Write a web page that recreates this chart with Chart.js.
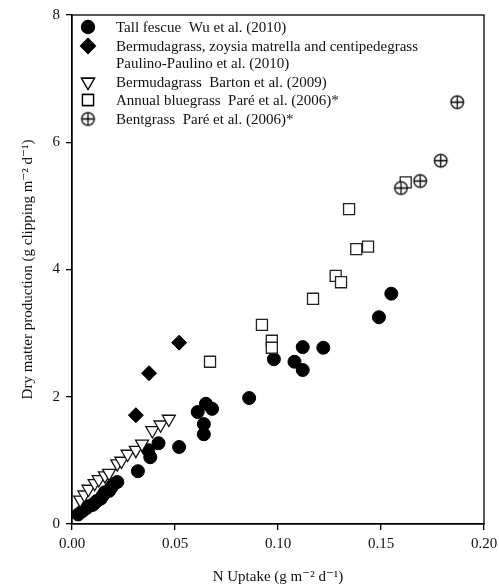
<!DOCTYPE html>
<html>
<head>
<meta charset="utf-8">
<script src="https://cdn.jsdelivr.net/npm/chart.js@4"></script>
<style>
  body { margin: 0; background: #fff; }
  #wrap { width: 499px; height: 588px; }
</style>
</head>
<body>
<div id="wrap"><canvas id="chart-uptake" width="499" height="588"></canvas></div>
<script>
/* N uptake vs. dry matter production, five turfgrass studies */

const xTickLabels = ['0.00', '0.05', '0.10', '0.15', '0.20'];
const yTickLabels = ['0', '2', '4', '6', '8'];

const tallFescueX = [0.003, 0.005, 0.007, 0.008, 0.010, 0.011, 0.012, 0.014, 0.015, 0.016, 0.018, 0.019, 0.020, 0.022,
  0.032, 0.037, 0.038, 0.042, 0.052, 0.061, 0.064, 0.064, 0.065, 0.068, 0.086, 0.098, 0.108, 0.112, 0.112, 0.122, 0.149, 0.155];
const tallFescueY = [0.15, 0.20, 0.25, 0.28, 0.30, 0.33, 0.36, 0.40, 0.45, 0.50, 0.52, 0.57, 0.62, 0.66,
  0.83, 1.16, 1.05, 1.27, 1.21, 1.76, 1.57, 1.41, 1.89, 1.81, 1.98, 2.59, 2.55, 2.42, 2.78, 2.77, 3.25, 3.62];

const zoysiaX = [0.031, 0.0374, 0.052];
const zoysiaY = [1.71, 2.37, 2.85];

const bartonX = [0.004, 0.006, 0.008, 0.011, 0.013, 0.016, 0.018, 0.022, 0.024, 0.027, 0.031, 0.034, 0.039, 0.043, 0.047];
const bartonY = [0.38, 0.46, 0.55, 0.64, 0.70, 0.76, 0.80, 0.95, 0.99, 1.10, 1.16, 1.26, 1.47, 1.56, 1.65];

const bluegrassX = [0.067, 0.0922, 0.097, 0.097, 0.117, 0.128, 0.1306, 0.1345, 0.138, 0.1437, 0.162];
const bluegrassY = [2.55, 3.13, 2.88, 2.77, 3.54, 3.90, 3.80, 4.95, 4.32, 4.36, 5.37];

const bentgrassX = [0.1597, 0.169, 0.179, 0.187];
const bentgrassY = [5.28, 5.39, 5.71, 6.63];

const legendLines = [
  { style: 'circle', text: 'Tall fescue  Wu et al. (2010)' },
  { style: 'diamond', text: 'Bermudagrass, zoysia matrella and centipedegrass' },
  { style: null, text: 'Paulino-Paulino et al. (2010)' },
  { style: 'triangle', text: 'Bermudagrass  Barton et al. (2009)' },
  { style: 'square', text: 'Annual bluegrass  Paré et al. (2006)*' },
  { style: 'oplus', text: 'Bentgrass  Paré et al. (2006)*' },
];

const SERIF = '"Liberation Serif", "DejaVu Serif", serif';
const pts = (xs, ys) => xs.map((x, i) => ({ x, y: ys[i] }));

/* circle with a cross inside, used as point style */
function makeOplus(r) {
  const c = document.createElement('canvas');
  const s = Math.ceil(r * 2 + 4);
  c.width = s; c.height = s;
  const g = c.getContext('2d');
  const m = s / 2;
  g.strokeStyle = '#000'; g.lineWidth = 1.3;
  g.fillStyle = '#fff';
  g.beginPath(); g.arc(m, m, r, 0, Math.PI * 2); g.fill(); g.stroke();
  g.beginPath();
  g.moveTo(m - r, m); g.lineTo(m + r, m);
  g.moveTo(m, m - r); g.lineTo(m, m + r);
  g.stroke();
  return c;
}
const oplusImg = makeOplus(6.3);

/* box frame + legend */
const frameLegend = {
  id: 'frameLegend',
  afterDraw(chart) {
    const { ctx, chartArea: a } = chart;
    ctx.save();
    ctx.strokeStyle = '#000';
    ctx.lineWidth = 1.3;
    ctx.strokeRect(a.left, a.top, a.right - a.left, a.bottom - a.top);

    ctx.font = '15px ' + SERIF;
    ctx.textBaseline = 'middle';
    const rows = [27, 46, 63, 82, 100, 119];
    const mx = 88, tx = 116;
    legendLines.forEach((l, i) => {
      const y = rows[i];
      ctx.fillStyle = '#111';
      ctx.fillText(l.text, tx, y + 1);
      ctx.strokeStyle = '#000';
      ctx.lineWidth = 1.3;
      if (l.style === 'circle') {
        ctx.fillStyle = '#000';
        Chart.helpers.drawPoint(ctx, { pointStyle: 'circle', radius: 6.5, rotation: 0, borderWidth: 1 }, mx, y);
        ctx.fill();
      } else if (l.style === 'diamond') {
        ctx.fillStyle = '#000';
        Chart.helpers.drawPoint(ctx, { pointStyle: 'rectRot', radius: 7.5, rotation: 0, borderWidth: 1 }, mx, y);
        ctx.fill();
      } else if (l.style === 'triangle') {
        ctx.fillStyle = '#fff';
        Chart.helpers.drawPoint(ctx, { pointStyle: 'triangle', radius: 7.5, rotation: 180, borderWidth: 1.3 }, mx, y);
        ctx.fill(); ctx.stroke();
      } else if (l.style === 'square') {
        ctx.fillStyle = '#fff';
        Chart.helpers.drawPoint(ctx, { pointStyle: 'rect', radius: 7.8, rotation: 0, borderWidth: 1.3 }, mx, y);
        ctx.fill(); ctx.stroke();
      } else if (l.style === 'oplus') {
        ctx.drawImage(oplusImg, mx - oplusImg.width / 2, y - oplusImg.height / 2);
      }
    });
    ctx.restore();
  }
};

new Chart(document.getElementById('chart-uptake'), {
  type: 'scatter',
  data: {
    datasets: [
      { label: 'Tall fescue', data: pts(tallFescueX, tallFescueY), pointStyle: 'circle', pointRadius: 6.5,
        backgroundColor: '#000', borderColor: '#000', borderWidth: 1, order: 5 },
      { label: 'Bermudagrass, zoysia', data: pts(zoysiaX, zoysiaY), pointStyle: 'rectRot', pointRadius: 7.5,
        backgroundColor: '#000', borderColor: '#000', borderWidth: 1, order: 4 },
      { label: 'Bermudagrass Barton', data: pts(bartonX, bartonY), pointStyle: 'triangle', rotation: 180, pointRadius: 7.5,
        backgroundColor: '#fff', borderColor: '#111', borderWidth: 1.3, order: 3 },
      { label: 'Annual bluegrass', data: pts(bluegrassX, bluegrassY), pointStyle: 'rect', pointRadius: 7.8,
        backgroundColor: '#fff', borderColor: '#222', borderWidth: 1.3, order: 2 },
      { label: 'Bentgrass', data: pts(bentgrassX, bentgrassY), pointStyle: oplusImg,
        backgroundColor: '#fff', borderColor: '#000', order: 1 },
    ]
  },
  options: {
    responsive: false,
    animation: false,
    layout: { padding: { left: 0, right: 15, top: 15, bottom: 0 } },
    plugins: { legend: { display: false }, tooltip: { enabled: false } },
    scales: {
      x: {
        type: 'linear', min: 0, max: 0.2,
        afterFit: s => { s.height = 64; s.paddingLeft = 0; s.paddingRight = 0; },
        border: { color: '#000', width: 1.3 },
        grid: { drawOnChartArea: false, color: '#000', tickLength: 6, lineWidth: 1.3 },
        ticks: { stepSize: 0.05, color: '#111', padding: 5, font: { family: SERIF, size: 15 },
          callback: (v, i) => xTickLabels[i] },
        title: { display: true, text: 'N Uptake (g m⁻² d⁻¹)', color: '#111', padding: { top: 2, bottom: 2 },
          font: { family: SERIF, size: 15 } }
      },
      y: {
        type: 'linear', min: 0, max: 8,
        afterFit: s => { s.width = 72; s.paddingTop = 0; s.paddingBottom = 0; },
        border: { color: '#000', width: 1.3 },
        grid: { drawOnChartArea: false, color: '#000', tickLength: 6, lineWidth: 1.3 },
        ticks: { stepSize: 2, color: '#111', padding: 6, font: { family: SERIF, size: 15 },
          callback: (v, i) => yTickLabels[i] },
        title: { display: true, text: 'Dry matter production (g clipping m⁻² d⁻¹)', color: '#111', padding: { top: 19, bottom: 19 },
          font: { family: SERIF, size: 15 } }
      }
    }
  },
  plugins: [frameLegend]
});
</script>
</body>
</html>
